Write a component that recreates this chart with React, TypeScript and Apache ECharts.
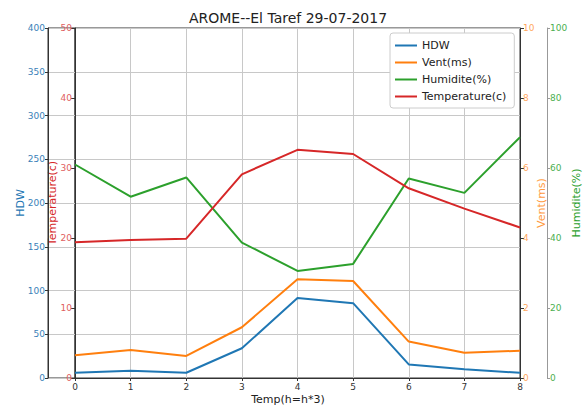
import React, { useEffect, useRef } from "react";
import * as echarts from "echarts";

const hours = ["0", "1", "2", "3", "4", "5", "6", "7", "8"];
const hdw = [6, 8.3, 6, 34, 91.5, 85.5, 15.5, 9.9, 6];
const vent = [0.65, 0.8, 0.63, 1.45, 2.82, 2.77, 1.04, 0.72, 0.78];
const humidite = [61, 51.8, 57.3, 38.7, 30.6, 32.6, 57, 52.9, 68.8];
const temperature = [19.4, 19.7, 19.9, 29.1, 32.6, 32.0, 27.1, 24.2, 21.5];

const FONT = "DejaVu Sans";
const C_HDW = "#1f77b4";
const C_VENT = "#ff7f0e";
const C_HUM = "#2ca02c";
const C_TEMP = "#d62728";
const GRIDC = "#c8c8c8";

export default function App() {
  const ref = useRef<HTMLDivElement>(null);
  useEffect(() => {
    if (!ref.current) return;
    const chart = echarts.init(ref.current, null, { renderer: "svg" });
    const tickStyle = { show: true, inside: false, length: 4, lineStyle: { color: "#333" } };
    chart.setOption({
      animation: false,
      backgroundColor: "#fff",
      textStyle: { fontFamily: FONT },
      title: [
        {
          text: "AROME--El Taref 29-07-2017",
          left: 283,
          top: 6,
          textAlign: "center",
          textStyle: { fontFamily: FONT, fontSize: 14, fontWeight: "normal", color: "#222" },
        },
        {
          text: "Temp(h=h*3)",
          left: 283,
          top: 389,
          textAlign: "center",
          textStyle: { fontFamily: FONT, fontSize: 11, fontWeight: "normal", color: "#222" },
        },
      ],
      legend: {
        orient: "vertical",
        left: 390,
        top: 33,
        icon: "rect",
        itemWidth: 22,
        itemHeight: 2,
        itemGap: 6,
        padding: [7, 8, 6, 5],
        borderColor: "#ccc",
        borderWidth: 1,
        borderRadius: 3,
        backgroundColor: "#fff",
        textStyle: { fontFamily: FONT, fontSize: 11, color: "#222" },
        data: ["HDW", "Vent(ms)", "Humidite(%)", "Temperature(c)"],
      },
      grid: [
        { left: 75, right: 67, top: 28, bottom: 27, show: true, borderColor: "#333", borderWidth: 1, outerBoundsMode: "none", containLabel: false },
        { left: 48, width: 27, top: 28, bottom: 27, show: true, borderColor: "#333", borderWidth: 1, outerBoundsMode: "none", containLabel: false },
      ],
      xAxis: [
        {
          type: "category",
          gridIndex: 0,
          data: hours,
          boundaryGap: false,
          axisLine: { show: true, lineStyle: { color: "#333" } },
          axisTick: { show: true, alignWithLabel: true, length: 3, lineStyle: { color: "#333" } },
          axisLabel: { fontFamily: FONT, fontSize: 9, color: "#333", margin: 4 },
          splitLine: { show: true, lineStyle: { color: GRIDC, width: 1 } },
        },
        { type: "value", gridIndex: 1, show: false, min: 0, max: 1 },
      ],
      yAxis: [
        {
          type: "value",
          gridIndex: 0,
          min: 0,
          max: 400,
          interval: 50,
          axisLine: { show: false },
          axisTick: { show: false },
          axisLabel: { show: false },
          splitLine: { show: true, lineStyle: { color: GRIDC, width: 1 } },
        },
        {
          type: "value",
          gridIndex: 0,
          position: "left",
          min: 0,
          max: 50,
          interval: 10,
          name: "Temperature(c)",
          nameLocation: "middle",
          nameGap: 17,
          nameRotate: 90,
          nameMoveOverlap: false,
          nameTextStyle: { fontFamily: FONT, fontSize: 11, color: C_TEMP },
          axisLine: { show: true, lineStyle: { color: "#333" } },
          axisTick: tickStyle,
          axisLabel: { fontFamily: FONT, fontSize: 9, color: "#e06060", margin: 3 },
          splitLine: { show: false },
        },
        {
          type: "value",
          gridIndex: 0,
          position: "right",
          min: 0,
          max: 10,
          interval: 2,
          name: "Vent(ms)",
          nameLocation: "middle",
          nameGap: 16,
          nameRotate: 90,
          nameMoveOverlap: false,
          nameTextStyle: { fontFamily: FONT, fontSize: 11, color: "#ff9a40" },
          axisLine: { show: true, lineStyle: { color: "#333" } },
          axisTick: tickStyle,
          axisLabel: { fontFamily: FONT, fontSize: 9, color: "#ffa860", margin: 3 },
          splitLine: { show: false },
        },
        {
          type: "value",
          gridIndex: 0,
          position: "right",
          offset: 27,
          min: 0,
          max: 100,
          interval: 20,
          name: "Humidite(%)",
          nameLocation: "middle",
          nameGap: 24,
          nameRotate: 90,
          nameMoveOverlap: false,
          nameTextStyle: { fontFamily: FONT, fontSize: 11, color: C_HUM },
          axisLine: { show: true, lineStyle: { color: "#999" } },
          axisTick: { show: true, length: 3, lineStyle: { color: "#999" } },
          axisLabel: { fontFamily: FONT, fontSize: 9, color: "#4caf50", margin: 3 },
          splitLine: { show: false },
        },
        {
          type: "value",
          gridIndex: 1,
          position: "left",
          min: 0,
          max: 400,
          interval: 50,
          name: "HDW",
          nameLocation: "middle",
          nameGap: 22,
          nameRotate: 90,
          nameMoveOverlap: false,
          nameTextStyle: { fontFamily: FONT, fontSize: 11, color: C_HDW },
          axisLine: { show: true, lineStyle: { color: "#333" } },
          axisTick: { show: true, length: 3, lineStyle: { color: "#333" } },
          axisLabel: { fontFamily: FONT, fontSize: 9, color: "#3a7fb8", margin: 3 },
          splitLine: { show: true, lineStyle: { color: GRIDC, width: 1 } },
        },
      ],
      series: [
        { name: "HDW", type: "line", xAxisIndex: 0, yAxisIndex: 0, data: hdw, symbol: "none", lineStyle: { width: 2, color: C_HDW }, itemStyle: { color: C_HDW } },
        { name: "Vent(ms)", type: "line", xAxisIndex: 0, yAxisIndex: 2, data: vent, symbol: "none", lineStyle: { width: 2, color: C_VENT }, itemStyle: { color: C_VENT } },
        { name: "Humidite(%)", type: "line", xAxisIndex: 0, yAxisIndex: 3, data: humidite, symbol: "none", lineStyle: { width: 2, color: C_HUM }, itemStyle: { color: C_HUM } },
        { name: "Temperature(c)", type: "line", xAxisIndex: 0, yAxisIndex: 1, data: temperature, symbol: "none", lineStyle: { width: 2, color: C_TEMP }, itemStyle: { color: C_TEMP } },
      ],
    });
    return () => chart.dispose();
  }, []);
  return <div ref={ref} style={{ position: "fixed", left: 0, top: 0, width: 587, height: 405 }} />;
}
